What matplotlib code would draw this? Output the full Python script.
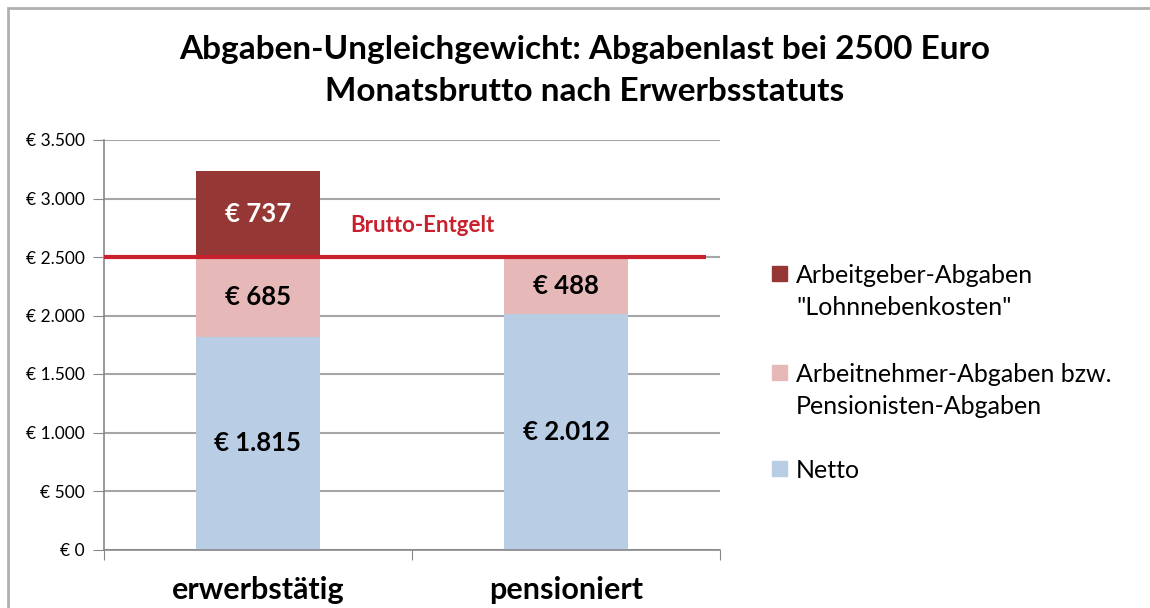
import matplotlib.pyplot as plt
from matplotlib.patches import Rectangle

plt.rcParams['font.family'] = ['Lato', 'DejaVu Sans']

categories = ["erwerbstätig", "pensioniert"]
netto = [1815, 2012]
arbeitnehmer = [685, 488]
arbeitgeber = [737, 0]
brutto = 2500

series_names = ['Arbeitgeber-Abgaben\n"Lohnnebenkosten"',
                'Arbeitnehmer-Abgaben bzw.\nPensionisten-Abgaben',
                'Netto']
colors = ['#953735', '#e6b9b8', '#b9cde5']


def euro(v):
    return "€ " + f"{v:,.0f}".replace(",", ".")


W, H = 1150, 608
fig = plt.figure(figsize=(11.5, 6.08), dpi=100)
ax = fig.add_axes([104 / W, 1 - 549.5 / H, 616 / W, 409.5 / H])

x = range(len(categories))
b1 = ax.bar(x, netto, width=0.4, color=colors[2], zorder=2)
b2 = ax.bar(x, arbeitnehmer, width=0.4, bottom=netto, color=colors[1], zorder=2)
bottom3 = [n + a for n, a in zip(netto, arbeitnehmer)]
b3 = ax.bar(x, arbeitgeber, width=0.4, bottom=bottom3, color=colors[0], zorder=2)

for bars, vals, bottoms, col in [(b1, netto, [0, 0], 'black'),
                                 (b2, arbeitnehmer, netto, 'black'),
                                 (b3, arbeitgeber, bottom3, 'white')]:
    for bar, v, b in zip(bars, vals, bottoms):
        if v == 0:
            continue
        ax.text(bar.get_x() + bar.get_width() / 2, b + v / 2, euro(v),
                ha='center', va='center', fontsize=18.5, fontweight='bold',
                color=col, zorder=4)

ax.plot([-0.5, 1.454], [brutto, brutto], color='#c8202c', lw=3, zorder=3,
        solid_capstyle='butt')
ax.text(0.299, 2773, "Brutto-Entgelt", color='#c8202c', fontsize=16,
        fontweight='bold', va='center', ha='left')

ax.set_xlim(-0.5, 1.5)
ax.set_ylim(0, 3500)
ax.set_yticks(range(0, 3501, 500))
ax.set_yticklabels([euro(v) for v in range(0, 3501, 500)], fontsize=12.5)
ax.set_xticks([-0.5, 0.5, 1.5])
ax.set_xticklabels([])
for i, cat in enumerate(categories):
    ax.text(i, -0.1217, cat, transform=ax.get_xaxis_transform(),
            ha='center', va='baseline', fontsize=22, fontweight='bold')
ax.tick_params(axis='x', length=7, color='#888888', direction='out')
ax.tick_params(axis='y', length=8, color='#888888', pad=6)
ax.grid(axis='y', color='#a6a6a6', lw=1.5, zorder=0)
for s in ['top', 'right']:
    ax.spines[s].set_visible(False)
for s in ['left', 'bottom']:
    ax.spines[s].set_color('#888888')
    ax.spines[s].set_linewidth(1.2)

fig.text(0.508, 1 - 59 / H, "Abgaben-Ungleichgewicht: Abgabenlast bei 2500 Euro",
         ha='center', va='baseline', fontsize=24, fontweight='bold')
fig.text(0.508, 1 - 101 / H, "Monatsbrutto nach Erwerbsstatuts",
         ha='center', va='baseline', fontsize=24, fontweight='bold')

# legend drawn by hand so the squares sit on the first line
legend_base = [283, 382, 478]
for name, col, yy in zip(series_names, colors, legend_base):
    fig.patches.append(Rectangle((772 / W, 1 - (yy - 2) / H), 15 / W, 15 / H,
                                 transform=fig.transFigure, color=col))
    lines = name.split("\n")
    for k, line in enumerate(lines):
        fig.text(796 / W, 1 - (yy + 32 * k) / H, line, ha='left',
                 va='baseline', fontsize=18)

fig.patches.append(Rectangle((8 / W, -0.1), 1.2, 1.1 - 8 / H,
                             transform=fig.transFigure, fill=False,
                             edgecolor='#b0b0b0', lw=2))

fig.savefig('out.png', dpi=100)
